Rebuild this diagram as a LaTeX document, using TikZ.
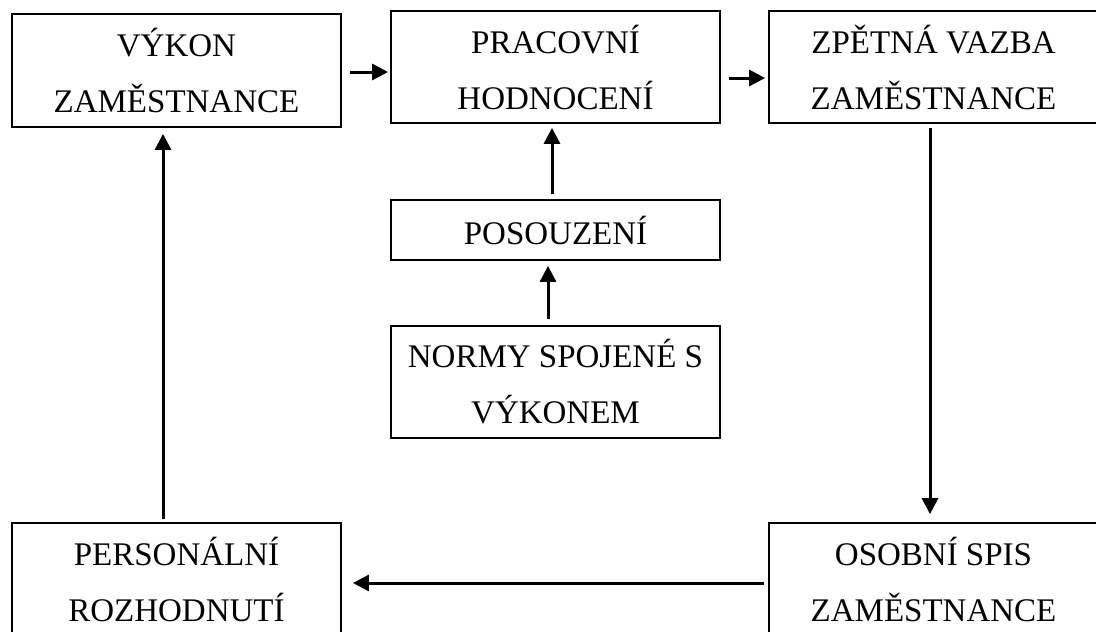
\documentclass[tikz,border=0pt]{standalone}
\usepackage{fontspec}
\setmainfont{Liberation Serif}
\usetikzlibrary{arrows.meta}
\tikzset{
    box/.style={draw,line width=1.8pt,inner sep=0pt,minimum width=329pt,
        minimum height=112pt,align=center,font=\fontsize{33}{56}\selectfont},
    arr/.style={line width=3pt,-{Triangle[length=16pt,width=16pt]}}
}
\begin{document}
\begin{tikzpicture}[x=1pt,y=-1pt]
        \clip (0,0) rectangle (1096,632);
        \node[box,minimum height=113pt] (vykon) at (176.5,70.5) {VÝKON\\ZAMĚSTNANCE};
        \node[box] (hodnoceni) at (555.5,67) {PRACOVNÍ\\HODNOCENÍ};
        \node[box] (zpetna) at (933.5,67) {ZPĚTNÁ VAZBA\\ZAMĚSTNANCE};
        \node[box,minimum height=60pt] (posouzeni) at (555.5,230) {POSOUZENÍ};
        \node[box] (normy) at (555.5,382) {NORMY SPOJENÉ S\\VÝKONEM};
        \node[box,minimum height=113pt] (rozhodnuti) at (176.5,579.5) {PERSONÁLNÍ\\ROZHODNUTÍ};
        \node[box,minimum height=113pt] (spis) at (933.5,579.5) {OSOBNÍ SPIS\\ZAMĚSTNANCE};
        % horni rada
        \draw[arr,shorten <=8pt,shorten >=2pt]([yshift=-1.5pt]vykon.east)--([yshift=-5pt]hodnoceni.west);
        \draw[arr,shorten <=8pt,shorten >=3pt]([yshift=-11pt]hodnoceni.east)--([yshift=-11pt]zpetna.west);
        % stred
        \draw[arr,shorten <=6pt,shorten >=5pt]([xshift=-7.5pt]normy.north)--([xshift=-7.5pt]posouzeni.south);
        \draw[arr,shorten <=5pt,shorten >=4pt]([xshift=-3.5pt]posouzeni.north)--([xshift=-3.5pt]hodnoceni.south);
        % okruh
        \draw[arr,shorten <=4pt,shorten >=8pt]([xshift=-3.5pt]zpetna.south)--([xshift=-3.5pt]spis.north);
        \draw[arr,shorten <=4pt,shorten >=11pt]([yshift=-3.5pt]spis.west)--([yshift=-3.5pt]rozhodnuti.east);
        \draw[arr,shorten <=3pt,shorten >=6pt]([xshift=-13.5pt]rozhodnuti.north)--([xshift=-13.5pt]vykon.south);
    \end{tikzpicture}
\end{document}
